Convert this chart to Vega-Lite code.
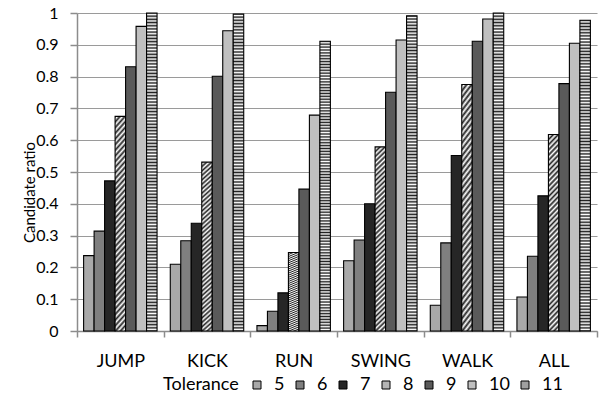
{
  "$schema": "https://vega.github.io/schema/vega-lite/v6.json",
  "width": 520,
  "height": 318,
  "autosize": {"type": "none"},
  "padding": {"left": 77, "top": 13, "right": 4, "bottom": 67},
  "background": "#ffffff",
  "config": {
    "view": {"stroke": null},
    "font": "Lato",
    "axis": {
      "labelFont": "Lato",
      "labelColor": "#000000",
      "titleFont": "Lato",
      "titleFontSize": 15,
      "titleFontWeight": "normal",
      "titleColor": "#000000",
      "domainColor": "#8c8c8c",
      "domainWidth": 1.5,
      "tickColor": "#8c8c8c",
      "tickWidth": 1.5,
      "gridColor": "#9a9a9a",
      "gridWidth": 1.2
    },
    "legend": {
      "labelFont": "Lato",
      "titleFont": "Lato"
    }
  },
  "data": {
    "values": [
      {"Action": "JUMP", "Tolerance": "5", "ratio": 0.237},
      {"Action": "JUMP", "Tolerance": "6", "ratio": 0.314},
      {"Action": "JUMP", "Tolerance": "7", "ratio": 0.472},
      {"Action": "JUMP", "Tolerance": "8", "ratio": 0.675},
      {"Action": "JUMP", "Tolerance": "9", "ratio": 0.831},
      {"Action": "JUMP", "Tolerance": "10", "ratio": 0.958},
      {"Action": "JUMP", "Tolerance": "11", "ratio": 1.0},
      {"Action": "KICK", "Tolerance": "5", "ratio": 0.21},
      {"Action": "KICK", "Tolerance": "6", "ratio": 0.284},
      {"Action": "KICK", "Tolerance": "7", "ratio": 0.339},
      {"Action": "KICK", "Tolerance": "8", "ratio": 0.531},
      {"Action": "KICK", "Tolerance": "9", "ratio": 0.801},
      {"Action": "KICK", "Tolerance": "10", "ratio": 0.944},
      {"Action": "KICK", "Tolerance": "11", "ratio": 0.997},
      {"Action": "RUN", "Tolerance": "5", "ratio": 0.017},
      {"Action": "RUN", "Tolerance": "6", "ratio": 0.062},
      {"Action": "RUN", "Tolerance": "7", "ratio": 0.12},
      {"Action": "RUN", "Tolerance": "8", "ratio": 0.247},
      {"Action": "RUN", "Tolerance": "9", "ratio": 0.446},
      {"Action": "RUN", "Tolerance": "10", "ratio": 0.679},
      {"Action": "RUN", "Tolerance": "11", "ratio": 0.911},
      {"Action": "SWING", "Tolerance": "5", "ratio": 0.221},
      {"Action": "SWING", "Tolerance": "6", "ratio": 0.286},
      {"Action": "SWING", "Tolerance": "7", "ratio": 0.4},
      {"Action": "SWING", "Tolerance": "8", "ratio": 0.579},
      {"Action": "SWING", "Tolerance": "9", "ratio": 0.751},
      {"Action": "SWING", "Tolerance": "10", "ratio": 0.915},
      {"Action": "SWING", "Tolerance": "11", "ratio": 0.991},
      {"Action": "WALK", "Tolerance": "5", "ratio": 0.081},
      {"Action": "WALK", "Tolerance": "6", "ratio": 0.277},
      {"Action": "WALK", "Tolerance": "7", "ratio": 0.552},
      {"Action": "WALK", "Tolerance": "8", "ratio": 0.775},
      {"Action": "WALK", "Tolerance": "9", "ratio": 0.911},
      {"Action": "WALK", "Tolerance": "10", "ratio": 0.981},
      {"Action": "WALK", "Tolerance": "11", "ratio": 1.0},
      {"Action": "ALL", "Tolerance": "5", "ratio": 0.107},
      {"Action": "ALL", "Tolerance": "6", "ratio": 0.235},
      {"Action": "ALL", "Tolerance": "7", "ratio": 0.425},
      {"Action": "ALL", "Tolerance": "8", "ratio": 0.618},
      {"Action": "ALL", "Tolerance": "9", "ratio": 0.778},
      {"Action": "ALL", "Tolerance": "10", "ratio": 0.905},
      {"Action": "ALL", "Tolerance": "11", "ratio": 0.977}
    ]
  },
  "mark": {"type": "bar", "stroke": "#000000", "strokeWidth": 1.1},
  "encoding": {
    "x": {
      "field": "Action",
      "type": "nominal",
      "sort": ["JUMP", "KICK", "RUN", "SWING", "WALK", "ALL"],
      "scale": {"paddingInner": 0, "paddingOuter": 0},
      "axis": {
        "title": null,
        "labelAngle": 0,
        "labelFontSize": 18,
        "tickBand": "extent",
        "tickSize": 6,
        "labelPadding": 15,
        "grid": false
      }
    },
    "xOffset": {
      "field": "Tolerance",
      "type": "nominal",
      "sort": ["5", "6", "7", "8", "9", "10", "11"],
      "scale": {"paddingInner": 0, "paddingOuter": 0.63}
    },
    "y": {
      "field": "ratio",
      "type": "quantitative",
      "scale": {"domain": [0, 1], "nice": false},
      "axis": {
        "title": "Candidate ratio",
        "values": [0, 0.1, 0.2, 0.3, 0.4, 0.5, 0.6, 0.7, 0.8, 0.9, 1],
        "format": ".1~f",
        "labelFontSize": 16,
        "tickSize": 7,
        "labelPadding": 12,
        "titleAngle": -90,
        "titleX": -48,
        "titleY": 179,
        "titleAlign": "center",
        "titleBaseline": "middle"
      }
    },
    "fill": {
      "condition": [
        {
          "test": "datum.Tolerance === '8'",
          "value": {
            "gradient": "linear",
            "x1": 0, "y1": 0, "x2": 0.0585, "y2": 1.052,
            "stops": [
              {"offset": 0, "color": "#222"}, {"offset": 0.0125, "color": "#fff"},
              {"offset": 0.025, "color": "#222"}, {"offset": 0.0375, "color": "#fff"},
              {"offset": 0.05, "color": "#222"}, {"offset": 0.0625, "color": "#fff"},
              {"offset": 0.075, "color": "#222"}, {"offset": 0.0875, "color": "#fff"},
              {"offset": 0.1, "color": "#222"}, {"offset": 0.1125, "color": "#fff"},
              {"offset": 0.125, "color": "#222"}, {"offset": 0.1375, "color": "#fff"},
              {"offset": 0.15, "color": "#222"}, {"offset": 0.1625, "color": "#fff"},
              {"offset": 0.175, "color": "#222"}, {"offset": 0.1875, "color": "#fff"},
              {"offset": 0.2, "color": "#222"}, {"offset": 0.2125, "color": "#fff"},
              {"offset": 0.225, "color": "#222"}, {"offset": 0.2375, "color": "#fff"},
              {"offset": 0.25, "color": "#222"}, {"offset": 0.2625, "color": "#fff"},
              {"offset": 0.275, "color": "#222"}, {"offset": 0.2875, "color": "#fff"},
              {"offset": 0.3, "color": "#222"}, {"offset": 0.3125, "color": "#fff"},
              {"offset": 0.325, "color": "#222"}, {"offset": 0.3375, "color": "#fff"},
              {"offset": 0.35, "color": "#222"}, {"offset": 0.3625, "color": "#fff"},
              {"offset": 0.375, "color": "#222"}, {"offset": 0.3875, "color": "#fff"},
              {"offset": 0.4, "color": "#222"}, {"offset": 0.4125, "color": "#fff"},
              {"offset": 0.425, "color": "#222"}, {"offset": 0.4375, "color": "#fff"},
              {"offset": 0.45, "color": "#222"}, {"offset": 0.4625, "color": "#fff"},
              {"offset": 0.475, "color": "#222"}, {"offset": 0.4875, "color": "#fff"},
              {"offset": 0.5, "color": "#222"}, {"offset": 0.5125, "color": "#fff"},
              {"offset": 0.525, "color": "#222"}, {"offset": 0.5375, "color": "#fff"},
              {"offset": 0.55, "color": "#222"}, {"offset": 0.5625, "color": "#fff"},
              {"offset": 0.575, "color": "#222"}, {"offset": 0.5875, "color": "#fff"},
              {"offset": 0.6, "color": "#222"}, {"offset": 0.6125, "color": "#fff"},
              {"offset": 0.625, "color": "#222"}, {"offset": 0.6375, "color": "#fff"},
              {"offset": 0.65, "color": "#222"}, {"offset": 0.6625, "color": "#fff"},
              {"offset": 0.675, "color": "#222"}, {"offset": 0.6875, "color": "#fff"},
              {"offset": 0.7, "color": "#222"}, {"offset": 0.7125, "color": "#fff"},
              {"offset": 0.725, "color": "#222"}, {"offset": 0.7375, "color": "#fff"},
              {"offset": 0.75, "color": "#222"}, {"offset": 0.7625, "color": "#fff"},
              {"offset": 0.775, "color": "#222"}, {"offset": 0.7875, "color": "#fff"},
              {"offset": 0.8, "color": "#222"}, {"offset": 0.8125, "color": "#fff"},
              {"offset": 0.825, "color": "#222"}, {"offset": 0.8375, "color": "#fff"},
              {"offset": 0.85, "color": "#222"}, {"offset": 0.8625, "color": "#fff"},
              {"offset": 0.875, "color": "#222"}, {"offset": 0.8875, "color": "#fff"},
              {"offset": 0.9, "color": "#222"}, {"offset": 0.9125, "color": "#fff"},
              {"offset": 0.925, "color": "#222"}, {"offset": 0.9375, "color": "#fff"},
              {"offset": 0.95, "color": "#222"}, {"offset": 0.9625, "color": "#fff"},
              {"offset": 0.975, "color": "#222"}, {"offset": 0.9875, "color": "#fff"},
              {"offset": 1, "color": "#222"}
            ]
          }
        },
        {
          "test": "datum.Tolerance === '11'",
          "value": {
            "gradient": "linear",
            "x1": 0, "y1": 0, "x2": 0, "y2": 1,
            "stops": [
              {"offset": 0, "color": "#222"}, {"offset": 0.005, "color": "#fff"},
              {"offset": 0.01, "color": "#222"}, {"offset": 0.015, "color": "#fff"},
              {"offset": 0.02, "color": "#222"}, {"offset": 0.025, "color": "#fff"},
              {"offset": 0.03, "color": "#222"}, {"offset": 0.035, "color": "#fff"},
              {"offset": 0.04, "color": "#222"}, {"offset": 0.045, "color": "#fff"},
              {"offset": 0.05, "color": "#222"}, {"offset": 0.055, "color": "#fff"},
              {"offset": 0.06, "color": "#222"}, {"offset": 0.065, "color": "#fff"},
              {"offset": 0.07, "color": "#222"}, {"offset": 0.075, "color": "#fff"},
              {"offset": 0.08, "color": "#222"}, {"offset": 0.085, "color": "#fff"},
              {"offset": 0.09, "color": "#222"}, {"offset": 0.095, "color": "#fff"},
              {"offset": 0.1, "color": "#222"}, {"offset": 0.105, "color": "#fff"},
              {"offset": 0.11, "color": "#222"}, {"offset": 0.115, "color": "#fff"},
              {"offset": 0.12, "color": "#222"}, {"offset": 0.125, "color": "#fff"},
              {"offset": 0.13, "color": "#222"}, {"offset": 0.135, "color": "#fff"},
              {"offset": 0.14, "color": "#222"}, {"offset": 0.145, "color": "#fff"},
              {"offset": 0.15, "color": "#222"}, {"offset": 0.155, "color": "#fff"},
              {"offset": 0.16, "color": "#222"}, {"offset": 0.165, "color": "#fff"},
              {"offset": 0.17, "color": "#222"}, {"offset": 0.175, "color": "#fff"},
              {"offset": 0.18, "color": "#222"}, {"offset": 0.185, "color": "#fff"},
              {"offset": 0.19, "color": "#222"}, {"offset": 0.195, "color": "#fff"},
              {"offset": 0.2, "color": "#222"}, {"offset": 0.205, "color": "#fff"},
              {"offset": 0.21, "color": "#222"}, {"offset": 0.215, "color": "#fff"},
              {"offset": 0.22, "color": "#222"}, {"offset": 0.225, "color": "#fff"},
              {"offset": 0.23, "color": "#222"}, {"offset": 0.235, "color": "#fff"},
              {"offset": 0.24, "color": "#222"}, {"offset": 0.245, "color": "#fff"},
              {"offset": 0.25, "color": "#222"}, {"offset": 0.255, "color": "#fff"},
              {"offset": 0.26, "color": "#222"}, {"offset": 0.265, "color": "#fff"},
              {"offset": 0.27, "color": "#222"}, {"offset": 0.275, "color": "#fff"},
              {"offset": 0.28, "color": "#222"}, {"offset": 0.285, "color": "#fff"},
              {"offset": 0.29, "color": "#222"}, {"offset": 0.295, "color": "#fff"},
              {"offset": 0.3, "color": "#222"}, {"offset": 0.305, "color": "#fff"},
              {"offset": 0.31, "color": "#222"}, {"offset": 0.315, "color": "#fff"},
              {"offset": 0.32, "color": "#222"}, {"offset": 0.325, "color": "#fff"},
              {"offset": 0.33, "color": "#222"}, {"offset": 0.335, "color": "#fff"},
              {"offset": 0.34, "color": "#222"}, {"offset": 0.345, "color": "#fff"},
              {"offset": 0.35, "color": "#222"}, {"offset": 0.355, "color": "#fff"},
              {"offset": 0.36, "color": "#222"}, {"offset": 0.365, "color": "#fff"},
              {"offset": 0.37, "color": "#222"}, {"offset": 0.375, "color": "#fff"},
              {"offset": 0.38, "color": "#222"}, {"offset": 0.385, "color": "#fff"},
              {"offset": 0.39, "color": "#222"}, {"offset": 0.395, "color": "#fff"},
              {"offset": 0.4, "color": "#222"}, {"offset": 0.405, "color": "#fff"},
              {"offset": 0.41, "color": "#222"}, {"offset": 0.415, "color": "#fff"},
              {"offset": 0.42, "color": "#222"}, {"offset": 0.425, "color": "#fff"},
              {"offset": 0.43, "color": "#222"}, {"offset": 0.435, "color": "#fff"},
              {"offset": 0.44, "color": "#222"}, {"offset": 0.445, "color": "#fff"},
              {"offset": 0.45, "color": "#222"}, {"offset": 0.455, "color": "#fff"},
              {"offset": 0.46, "color": "#222"}, {"offset": 0.465, "color": "#fff"},
              {"offset": 0.47, "color": "#222"}, {"offset": 0.475, "color": "#fff"},
              {"offset": 0.48, "color": "#222"}, {"offset": 0.485, "color": "#fff"},
              {"offset": 0.49, "color": "#222"}, {"offset": 0.495, "color": "#fff"},
              {"offset": 0.5, "color": "#222"}, {"offset": 0.505, "color": "#fff"},
              {"offset": 0.51, "color": "#222"}, {"offset": 0.515, "color": "#fff"},
              {"offset": 0.52, "color": "#222"}, {"offset": 0.525, "color": "#fff"},
              {"offset": 0.53, "color": "#222"}, {"offset": 0.535, "color": "#fff"},
              {"offset": 0.54, "color": "#222"}, {"offset": 0.545, "color": "#fff"},
              {"offset": 0.55, "color": "#222"}, {"offset": 0.555, "color": "#fff"},
              {"offset": 0.56, "color": "#222"}, {"offset": 0.565, "color": "#fff"},
              {"offset": 0.57, "color": "#222"}, {"offset": 0.575, "color": "#fff"},
              {"offset": 0.58, "color": "#222"}, {"offset": 0.585, "color": "#fff"},
              {"offset": 0.59, "color": "#222"}, {"offset": 0.595, "color": "#fff"},
              {"offset": 0.6, "color": "#222"}, {"offset": 0.605, "color": "#fff"},
              {"offset": 0.61, "color": "#222"}, {"offset": 0.615, "color": "#fff"},
              {"offset": 0.62, "color": "#222"}, {"offset": 0.625, "color": "#fff"},
              {"offset": 0.63, "color": "#222"}, {"offset": 0.635, "color": "#fff"},
              {"offset": 0.64, "color": "#222"}, {"offset": 0.645, "color": "#fff"},
              {"offset": 0.65, "color": "#222"}, {"offset": 0.655, "color": "#fff"},
              {"offset": 0.66, "color": "#222"}, {"offset": 0.665, "color": "#fff"},
              {"offset": 0.67, "color": "#222"}, {"offset": 0.675, "color": "#fff"},
              {"offset": 0.68, "color": "#222"}, {"offset": 0.685, "color": "#fff"},
              {"offset": 0.69, "color": "#222"}, {"offset": 0.695, "color": "#fff"},
              {"offset": 0.7, "color": "#222"}, {"offset": 0.705, "color": "#fff"},
              {"offset": 0.71, "color": "#222"}, {"offset": 0.715, "color": "#fff"},
              {"offset": 0.72, "color": "#222"}, {"offset": 0.725, "color": "#fff"},
              {"offset": 0.73, "color": "#222"}, {"offset": 0.735, "color": "#fff"},
              {"offset": 0.74, "color": "#222"}, {"offset": 0.745, "color": "#fff"},
              {"offset": 0.75, "color": "#222"}, {"offset": 0.755, "color": "#fff"},
              {"offset": 0.76, "color": "#222"}, {"offset": 0.765, "color": "#fff"},
              {"offset": 0.77, "color": "#222"}, {"offset": 0.775, "color": "#fff"},
              {"offset": 0.78, "color": "#222"}, {"offset": 0.785, "color": "#fff"},
              {"offset": 0.79, "color": "#222"}, {"offset": 0.795, "color": "#fff"},
              {"offset": 0.8, "color": "#222"}, {"offset": 0.805, "color": "#fff"},
              {"offset": 0.81, "color": "#222"}, {"offset": 0.815, "color": "#fff"},
              {"offset": 0.82, "color": "#222"}, {"offset": 0.825, "color": "#fff"},
              {"offset": 0.83, "color": "#222"}, {"offset": 0.835, "color": "#fff"},
              {"offset": 0.84, "color": "#222"}, {"offset": 0.845, "color": "#fff"},
              {"offset": 0.85, "color": "#222"}, {"offset": 0.855, "color": "#fff"},
              {"offset": 0.86, "color": "#222"}, {"offset": 0.865, "color": "#fff"},
              {"offset": 0.87, "color": "#222"}, {"offset": 0.875, "color": "#fff"},
              {"offset": 0.88, "color": "#222"}, {"offset": 0.885, "color": "#fff"},
              {"offset": 0.89, "color": "#222"}, {"offset": 0.895, "color": "#fff"},
              {"offset": 0.9, "color": "#222"}, {"offset": 0.905, "color": "#fff"},
              {"offset": 0.91, "color": "#222"}, {"offset": 0.915, "color": "#fff"},
              {"offset": 0.92, "color": "#222"}, {"offset": 0.925, "color": "#fff"},
              {"offset": 0.93, "color": "#222"}, {"offset": 0.935, "color": "#fff"},
              {"offset": 0.94, "color": "#222"}, {"offset": 0.945, "color": "#fff"},
              {"offset": 0.95, "color": "#222"}, {"offset": 0.955, "color": "#fff"},
              {"offset": 0.96, "color": "#222"}, {"offset": 0.965, "color": "#fff"},
              {"offset": 0.97, "color": "#222"}, {"offset": 0.975, "color": "#fff"},
              {"offset": 0.98, "color": "#222"}, {"offset": 0.985, "color": "#fff"},
              {"offset": 0.99, "color": "#222"}, {"offset": 0.995, "color": "#fff"},
              {"offset": 1, "color": "#222"}
            ]
          }
        }
      ],
      "field": "Tolerance",
      "type": "nominal",
      "sort": ["5", "6", "7", "8", "9", "10", "11"],
      "scale": {
        "domain": ["5", "6", "7", "8", "9", "10", "11"],
        "range": ["#a9a9a9", "#7f7f7f", "#262626", "#b5b5b5", "#5a5a5a", "#c0c0c0", "#a0a0a0"]
      },
      "legend": {
        "orient": "none",
        "legendX": 86,
        "legendY": 363,
        "direction": "horizontal",
        "title": "Tolerance",
        "titleOrient": "left",
        "titleFontSize": 18,
        "titleFontWeight": "normal",
        "titleColor": "#000000",
        "titlePadding": 9,
        "titleBaseline": "middle",
        "labelFontSize": 18,
        "labelColor": "#000000",
        "labelOffset": 8,
        "columnPadding": 6,
        "symbolType": "square",
        "symbolSize": 64,
        "symbolStrokeColor": "#000000",
        "symbolStrokeWidth": 1
      }
    }
  }
}
